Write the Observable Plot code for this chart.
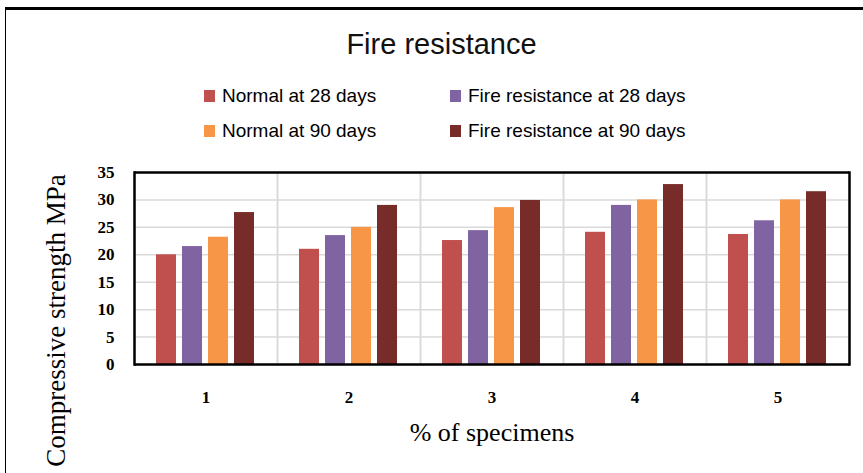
<!DOCTYPE html>
<html><head><meta charset="utf-8">
<script src="https://cdn.jsdelivr.net/npm/d3@7"></script>
<script src="https://cdn.jsdelivr.net/npm/@observablehq/plot@0.6"></script>
<style>
body{margin:0;background:#fff;}
#wrap{position:relative;width:863px;height:473px;overflow:hidden;background:#fff;}
#box{position:absolute;left:5px;top:7px;width:870px;height:480px;border-top:3px solid #000;border-left:1px solid #000;}
#title{position:absolute;left:0;width:883px;top:28px;text-align:center;font-family:"Liberation Sans Narrow","Liberation Sans",sans-serif;font-size:29px;color:#111;}
.lg{position:absolute;display:flex;align-items:center;font-family:"Liberation Sans Narrow","Liberation Sans",sans-serif;font-size:19px;color:#000;white-space:nowrap;}
.sw{width:11px;height:12px;margin-right:7px;}
#chart{position:absolute;left:0;top:150px;}
</style></head>
<body><div id="wrap"><div id="box"></div><div id="title">Fire resistance</div><div id="legend"></div><div id="chart"></div></div>
<script>
const categories = ["1","2","3","4","5"];
const seriesNames = ["Normal at 28 days","Fire resistance at 28 days","Normal at 90 days","Fire resistance at 90 days"];
const seriesColors = ["#C0504D","#8064A2","#F79646","#772C2A"];
const normal28 = [20.0, 21.0, 22.6, 24.1, 23.7];
const fire28   = [21.5, 23.5, 24.4, 29.0, 26.2];
const normal90 = [23.2, 25.0, 28.6, 30.0, 30.0];
const fire90   = [27.7, 29.0, 29.9, 32.8, 31.5];
const yTicks = [0,5,10,15,20,25,30,35];

const seriesValues = [normal28, fire28, normal90, fire90];
const data = [];
categories.forEach((c,i)=>seriesNames.forEach((s,j)=>data.push({cat:c, series:s, value:seriesValues[j][i]})));

// legend
const legendPos = [[204,96],[450,96],[204,131],[450,131]];
const legend = document.getElementById("legend");
seriesNames.forEach((s,j)=>{
  const d = document.createElement("div");
  d.className="lg";
  d.style.left = legendPos[j][0]+"px";
  d.style.top = (legendPos[j][1]-12)+"px";
  d.style.height="24px";
  d.innerHTML = `<div class="sw" style="background:${seriesColors[j]}"></div><span>${s}</span>`;
  legend.appendChild(d);
});

const serif = "'Liberation Serif','Times New Roman',serif";
const plot = Plot.plot({
  width: 863, height: 323,
  marginLeft: 133, marginRight: 14, marginTop: 22, marginBottom: 109,
  style:{fontFamily: serif, background:"transparent", overflow:"visible"},
  fx: {domain: categories, padding: 0, label: null},
  x: {domain: seriesNames, paddingInner: 0.23, paddingOuter: 0.865, axis: null},
  y: {domain: [0,35], label: null},
  color: {domain: seriesNames, range: seriesColors},
  marks: [
    Plot.gridY(yTicks.slice(1,-1), {stroke:"#d9d9d9", strokeOpacity:1, strokeWidth:1.5}),
    Plot.frame({stroke:"#d9d9d9", strokeWidth:1.5}),
    Plot.barY(data, {fx:"cat", x:"series", y:"value", fill:"series"}),
    Plot.ruleY([0,35], {stroke:"#000", strokeWidth:2.5}),
    Plot.frame({anchor:"left", facetAnchor:"left", stroke:"#000", strokeWidth:2.5}),
    Plot.frame({anchor:"right", facetAnchor:"right", stroke:"#000", strokeWidth:2.5}),
    Plot.axisY(yTicks, {tickSize:0, tickPadding:20, fontSize:17, fontWeight:"bold", letterSpacing:2, label:null}),
    Plot.axisFx({anchor:"bottom", tickSize:0, tickPadding:26, fontSize:17, fontWeight:"bold", label:null}),
    Plot.text([{fx:"3"}], {fx:"fx", text:()=>"% of specimens", frameAnchor:"bottom", dy:76, fontSize:26, fill:"#000", fontFamily:serif, letterSpacing:2}),
    Plot.text([{fx:"1"}], {fx:"fx", text:()=>"Compressive strength MPa", frameAnchor:"left", textAnchor:"middle", dx:-78, dy:52, rotate:-90, fontSize:27, fill:"#000", fontFamily:serif})
  ]
});
document.getElementById("chart").appendChild(plot);
</script></body></html>
